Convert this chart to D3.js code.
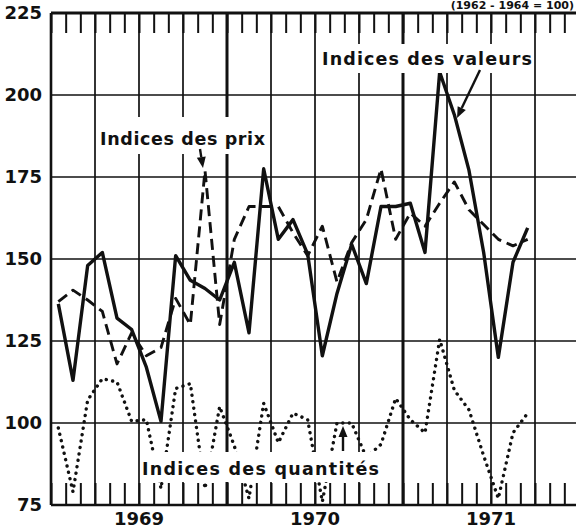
<!DOCTYPE html>
<html><head><meta charset="utf-8">
<script src="https://cdn.jsdelivr.net/npm/d3@7"></script>
<style>
html,body{margin:0;padding:0;background:#fff;}
svg{display:block;}
text{font-family:"DejaVu Sans",sans-serif;font-weight:bold;fill:#111;}
</style></head><body>
<svg id="c" width="576" height="528"></svg>
<script>
// months Jan 1969 .. Dec 1971 (data runs to Sep 1971)
const months = ["1969-01","1969-02","1969-03","1969-04","1969-05","1969-06","1969-07","1969-08","1969-09","1969-10","1969-11","1969-12",
                "1970-01","1970-02","1970-03","1970-04","1970-05","1970-06","1970-07","1970-08","1970-09","1970-10","1970-11","1970-12",
                "1971-01","1971-02","1971-03","1971-04","1971-05","1971-06","1971-07","1971-08","1971-09","1971-10","1971-11","1971-12"];
const years = ["1969","1970","1971"];
const yTicks = [75,100,125,150,175,200,225];

// Indices des valeurs (solid)
const valeurs = [136.3,113,148,152,132,128.5,117,100.5,151,143.5,141,137.5,
                 149,127.5,177.5,156,162,151.5,120.5,139.5,154.5,142.5,166,166,
                 167,152,207,194,177,152,120,149,159.5];
// Indices des prix (dashed)
const prix = [137,140.5,137.5,134,118,127.5,120.5,123,138,130,177,130,
              156,166,166,166,158,151,160,143,155,162,177.5,156,
              164,160,167,173.5,165,160.5,156,154,156];
// Indices des quantités (dotted)
const quantites = [98.5,79,107,113.5,112.5,100.5,101,80,110.5,112,80,105,
                   93,77,106,94,103,101,76,100,100,89.5,93.5,107.5,
                   101,97,125.5,110,104,90,77,97,103];

const labelValeurs = "Indices des valeurs";
const labelPrix = "Indices des prix";
const labelQuantites = "Indices des quantités";
const header = "(1962 - 1964 = 100)";

const INK = "#111";
const svg = d3.select("#c");
const x = d3.scaleLinear().domain([0, months.length]).range([51, 579]);
const y = d3.scaleLinear().domain([75, 225]).range([505, 13]);

// header (mostly cut off in the reference) – kept small so it fits
svg.append("text").attr("x", 574).attr("y", 9).attr("text-anchor", "end")
  .attr("font-size", 11).text(header);

// horizontal grid
svg.append("g").selectAll("line").data(yTicks).join("line")
  .attr("x1", x(0)).attr("x2", x(months.length))
  .attr("y1", d => y(d)).attr("y2", d => y(d))
  .attr("stroke", INK)
  .attr("stroke-width", d => d === 225 ? 3 : (d === 75 ? 2.6 : 1.7));

// vertical grid (quarters), thicker at year boundaries
const qStarts = d3.range(0, months.length + 1, 3);
svg.append("g").selectAll("line").data(qStarts).join("line")
  .attr("x1", d => x(d)).attr("x2", d => x(d))
  .attr("y1", y(225)).attr("y2", y(75))
  .attr("stroke", INK)
  .attr("stroke-width", d => d === 0 ? 2.6 : (d % 12 === 0 ? 3 : 1.7));

// data lines
const line = d3.line().x((d, i) => x(i + 0.5)).y(d => y(d));
svg.append("path").datum(quantites).attr("d", line)
  .attr("fill", "none").attr("stroke", INK).attr("stroke-width", 3.4)
  .attr("stroke-linecap", "round").attr("stroke-dasharray", "0.1,6.4");
svg.append("path").datum(prix).attr("d", line)
  .attr("fill", "none").attr("stroke", INK).attr("stroke-width", 2.9)
  .attr("stroke-linejoin", "round").attr("stroke-dasharray", "11,6");
svg.append("path").datum(valeurs).attr("d", line)
  .attr("fill", "none").attr("stroke", INK).attr("stroke-width", 3.4)
  .attr("stroke-linejoin", "round");

// label boxes
const boxes = [
  {x0: 320, y0: 44, x1: 532, y1: 73},
  {x0: 96, y0: 117, x1: 269, y1: 154},
  {x0: 140, y0: 452, x1: 399, y1: 482}
];
svg.append("g").selectAll("rect").data(boxes).join("rect")
  .attr("x", d => d.x0).attr("y", d => d.y0)
  .attr("width", d => d.x1 - d.x0).attr("height", d => d.y1 - d.y0)
  .attr("fill", "#fff");

const labs = [
  {t: labelValeurs, x: 322, y: 65, w: 210},
  {t: labelPrix, x: 100, y: 145, w: 165},
  {t: labelQuantites, x: 142, y: 475, w: 237}
];
svg.append("g").selectAll("text").data(labs).join("text")
  .attr("x", d => d.x).attr("y", d => d.y)
  .attr("font-size", 17.5)
  .attr("textLength", d => d.w).attr("lengthAdjust", "spacing")
  .text(d => d.t);

// arrows
function arrow(x1, y1, x2, y2) {
  const a = Math.atan2(y2 - y1, x2 - x1), L = 11, W = 4.5;
  const bx = x2 - L * Math.cos(a), by = y2 - L * Math.sin(a);
  svg.append("line").attr("x1", x1).attr("y1", y1).attr("x2", bx).attr("y2", by)
    .attr("stroke", INK).attr("stroke-width", 2.4);
  svg.append("path")
    .attr("d", `M${x2},${y2}L${bx + W * Math.sin(a)},${by - W * Math.cos(a)}L${bx - W * Math.sin(a)},${by + W * Math.cos(a)}Z`)
    .attr("fill", INK);
}
arrow(200, 149, 203, 168);
arrow(480, 70, 457, 118);
arrow(343, 451, 343, 426);

// month ticks (top and bottom)
const tickVals = d3.range(0, months.length + 1);
const bottomAxis = svg.append("g").attr("transform", `translate(0,${y(75)})`)
  .call(d3.axisBottom(x).tickValues(tickVals).tickSize(-22).tickFormat(""));
const topAxis = svg.append("g").attr("transform", `translate(0,${y(225)})`)
  .call(d3.axisTop(x).tickValues(tickVals).tickSize(-20).tickFormat(""));
[bottomAxis, topAxis].forEach(g => {
  g.select(".domain").remove();
  g.selectAll(".tick line").attr("stroke", INK).attr("stroke-width", 2);
});

// y axis labels
const yAxis = svg.append("g").attr("transform", `translate(${x(0)},0)`)
  .call(d3.axisLeft(y).tickValues(yTicks).tickSize(0).tickPadding(9));
yAxis.select(".domain").remove();
yAxis.selectAll("text").attr("font-size", 18).attr("font-family", "DejaVu Sans")
  .attr("font-weight", "bold").attr("fill", INK);

// year labels
svg.append("g").selectAll("text").data(years).join("text")
  .attr("x", (d, i) => x(i * 12 + 6)).attr("y", 525)
  .attr("text-anchor", "middle").attr("font-size", 18)
  .text(d => d);
</script>
</body></html>
